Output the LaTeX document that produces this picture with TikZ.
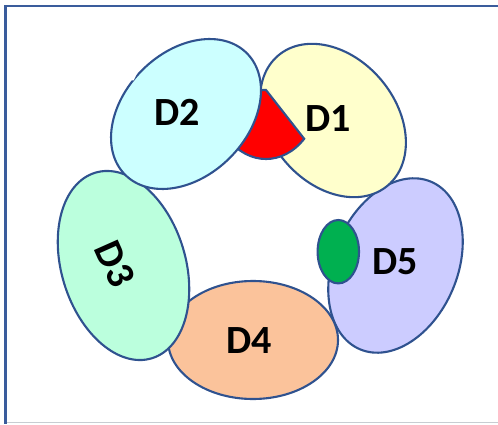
\documentclass[tikz,border=0pt]{standalone}
\usepackage{fontspec}
\setmainfont{Carlito}
\usetikzlibrary{shapes.geometric}
\definecolor{edgeblue}{HTML}{2F528F}
\definecolor{framecol}{HTML}{3A5C9C}
\definecolor{framegray}{HTML}{C8CDD2}
\definecolor{fillA}{HTML}{FFFFCC}
\definecolor{fillB}{HTML}{CCFFFF}
\definecolor{fillC}{HTML}{BBFFDD}
\definecolor{fillD}{HTML}{FBC39B}
\definecolor{fillE}{HTML}{CCCCFF}
\definecolor{greenE}{HTML}{00B050}
\begin{document}
\begin{tikzpicture}[x=1pt,y=1pt,
  blob/.style={ellipse, draw=edgeblue, line width=2.1pt, inner sep=0pt, outer sep=0pt},
  lbl/.style={font=\fontsize{40}{40}\selectfont\bfseries, inner sep=0pt, text=black}]
\useasboundingbox (0,0) rectangle (498,424);
% frame
\coordinate (fTR) at (498,418.2);
\coordinate (fTL) at (5.7,418.2);
\coordinate (fBL) at (5.7,0);
\coordinate (gL) at (5.7,1.3);
\coordinate (gR) at (498,1.3);
\draw[framegray, line width=1pt] (gL) -- (gR);
\draw[framecol, line width=2.5pt] (fTR) -- (fTL) -- (fBL);
% ellipses
\node[blob, fill=fillE, minimum width=182pt, minimum height=124pt, rotate=67] (e5) at (395.5,158.5) {};
\node[blob, fill=fillD, minimum width=170pt, minimum height=118pt] (e4) at (253,84) {};
\node[blob, fill=fillC, minimum width=194pt, minimum height=124pt, rotate=-73] (e3) at (123.5,158.5) {};
\node[blob, fill=fillA, minimum width=170pt, minimum height=126pt, rotate=-50] (e1) at (333,303.5) {};
% red sector
\coordinate (pieC) at (266,334);
\draw[edgeblue, fill=red, line width=2.1pt] (pieC) -- ++(38.2,-48.8)
  arc[start angle=-45, end angle=-180, x radius=54, y radius=69] -- cycle;
\node[blob, fill=fillB, minimum width=172pt, minimum height=124pt, rotate=45] (e2) at (186,310) {};
% small white notch on D2 outline
\fill[white] (130,350.5) -- (137,350.5) -- (133.5,343.5) -- (130,343.5) -- cycle;
% green dot
\node[blob, fill=greenE, minimum width=41.4pt, minimum height=63.4pt] (g5) at (338.3,172.3) {};
% labels
\node[lbl] (t2) at (177,312) {D2};
\node[lbl] (t1) at (328,305) {D1};
\node[lbl] (t5) at (395,162) {D5};
\node[lbl] (t4) at (249,83) {D4};
\node[lbl, rotate=-66] (t3) at (115,160) {D3};
\end{tikzpicture}
\end{document}
